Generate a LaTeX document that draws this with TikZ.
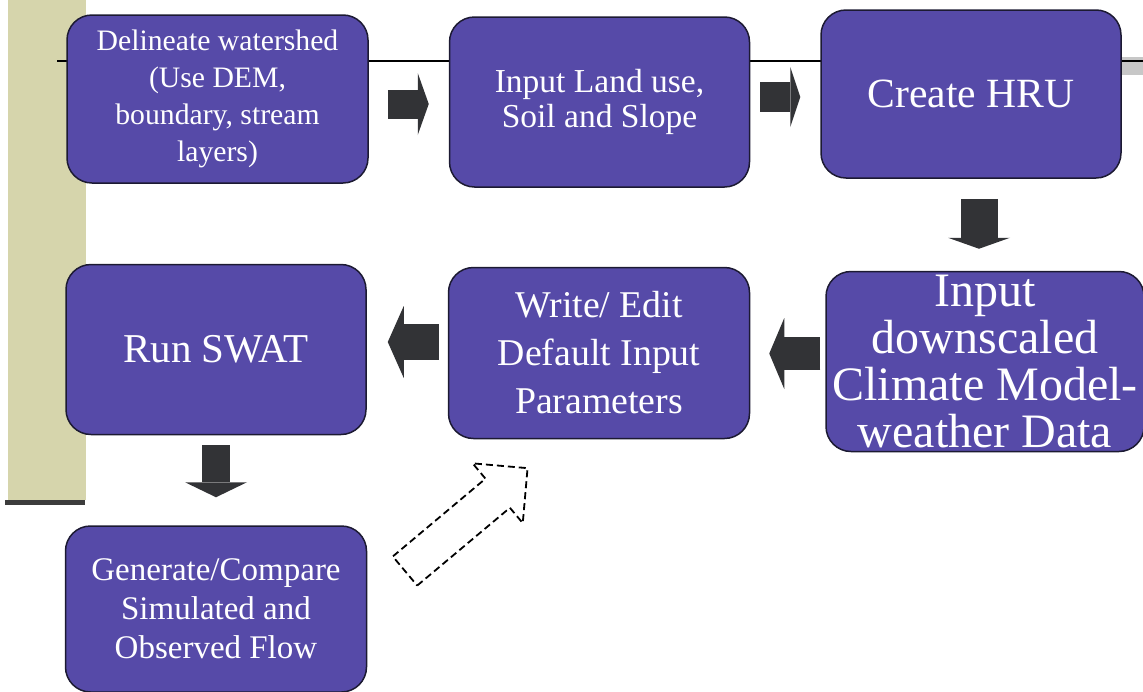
\documentclass[tikz,border=0pt]{standalone}
\usepackage{fontspec}
\setmainfont{Liberation Serif}
\usepackage{xcolor}
\usepackage{tikz}
\usetikzlibrary{arrows.meta,positioning,calc,backgrounds}
\definecolor{boxfill}{RGB}{86,74,168}
\definecolor{boxline}{RGB}{28,26,50}
\definecolor{arrgray}{RGB}{50,51,54}
\definecolor{barfill}{RGB}{214,213,172}
\definecolor{bardark}{RGB}{60,60,60}
\tikzset{
  procbox/.style={draw=boxline,fill=boxfill,line width=1.5pt,rounded corners=25pt,text=white,align=center,inner sep=0pt},
  blk/.style n args={3}{draw=arrgray,line width=#1,-{Triangle[width=#2,length=#3,line width=0pt]}},
  dashbox/.style={draw=black,line width=1.8pt,dash pattern=on 7pt off 4pt,line join=miter}
}
\begin{document}
\begin{tikzpicture}[x=1pt,y=-1pt,node distance=80pt and 80pt]
          \useasboundingbox (0,0) rectangle (1143,691);
          %% top row: Del -> Land -> HRU, then down and back to the left
          \node[procbox,minimum width=301pt,minimum height=168pt,font=\fontsize{29.7}{37}\selectfont] (sDel) at (217.5,99) {Delineate watershed\\(Use DEM,\\boundary, stream\\layers)};
          \node[procbox,minimum width=300pt,minimum height=170pt,font=\fontsize{33.5}{35}\selectfont,right=80pt of sDel,yshift=-3pt] (sLand) {Input Land use,\\Soil and Slope};
          \node[procbox,minimum width=300pt,minimum height=168pt,font=\fontsize{41.6}{44}\selectfont,right=70pt of sLand,yshift=8pt] (sHru) {Create HRU};
          \node[procbox,minimum width=318pt,minimum height=180pt,font=\fontsize{48}{47}\selectfont,below=92pt of sHru,xshift=14pt] (sClim) {Input\\downscaled\\Climate Model-\\weather Data};
          \node[procbox,minimum width=301pt,minimum height=171pt,font=\fontsize{37.8}{48}\selectfont,left=75pt of sClim,yshift=8.5pt] (sPar) {Write/ Edit\\Default Input\\Parameters};
          \node[procbox,minimum width=300pt,minimum height=170pt,font=\fontsize{41}{44}\selectfont,left=81pt of sPar,yshift=3.5pt] (sRun) {Run SWAT};
          \node[procbox,minimum width=301pt,minimum height=166pt,font=\fontsize{33}{39}\selectfont,below=90pt of sRun] (sFlow) {Generate/Compare\\Simulated and\\Observed Flow};
          \draw[blk={29pt}{62pt}{11pt},shorten <=19pt,shorten >=20pt]([yshift=-5pt]sDel.east)--([yshift=-5pt]sDel.east -| sLand.west);
          \draw[blk={30pt}{60pt}{10pt},shorten <=10pt,shorten >=20pt]([yshift=5pt]sLand.east)--([yshift=5pt]sLand.east -| sHru.west);
          \draw[blk={37pt}{62pt}{11pt},shorten <=20pt,shorten >=22pt]([xshift=8pt]sHru.south)--([xshift=8pt]sHru.south |- sClim.north);
          \draw[blk={33pt}{71pt}{15pt},shorten <=5pt,shorten >=19pt]([yshift=8pt]sClim.west)--([yshift=8pt]sClim.west -| sPar.east);
          \draw[blk={36pt}{72pt}{16pt},shorten <=9pt,shorten >=21pt]([yshift=11pt]sPar.west)--([yshift=11pt]sPar.west -| sRun.east);
          \draw[blk={28pt}{62pt}{15pt},shorten <=10pt,shorten >=28pt](sRun.south)--(sRun.south |- sFlow.north);
          % hollow dashed arrow back up to the parameters
          \begin{scope}[shift={(405,571)},rotate=40]
            \draw[dashbox] (0,19)--(121,19)--(121,39)--(160,0)--(121,-39)--(121,-19)--(0,-19)--cycle;
          \end{scope}
          \begin{scope}[on background layer]
            \fill[barfill] (8,0) rectangle (86,500);
            \fill[bardark] (5,500) rectangle (85,505);
            \fill[black!22] (1120,57) rectangle (1143,75);
            \draw[line width=2pt] (57,61)--(1143,61);
          \end{scope}
        \end{tikzpicture}
\end{document}
